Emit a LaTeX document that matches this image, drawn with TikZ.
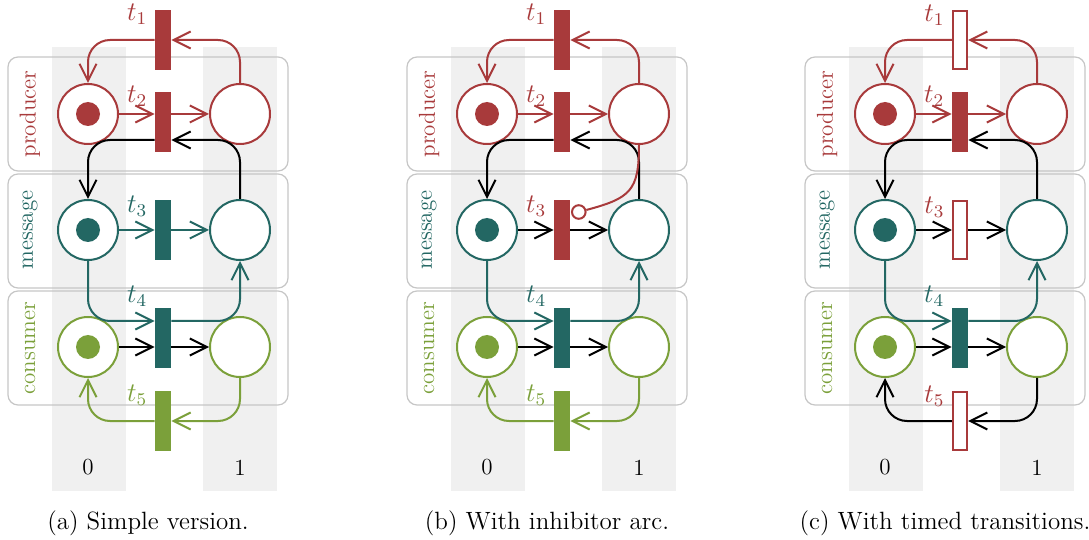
\documentclass[tikz,border=0pt]{standalone}
\usepackage{graphicx}
\usetikzlibrary{arrows.meta,calc}

\definecolor{pred}{HTML}{A83A3B}
\definecolor{pteal}{HTML}{236763}
\definecolor{pgreen}{HTML}{7BA03A}
\definecolor{colbg}{HTML}{F0F0F0}
\definecolor{boxline}{HTML}{C6C6C6}

\tikzset{
  place/.style={circle, draw, line width=1pt, minimum size=30pt, inner sep=0pt, fill=white},
  transbar/.style={rectangle, minimum width=8pt, minimum height=30pt, inner sep=0pt},
  tfull/.style={transbar, fill=#1},
  topen/.style={transbar, draw=#1, fill=white, line width=0.9pt, minimum width=7.2pt, minimum height=29.2pt},
  flow/.style={line width=1pt, rounded corners=11pt, -{Straight Barb[length=8.5pt,width=8.5pt]}},
  lanebox/.style={draw=boxline, line width=0.6pt, rounded corners=5pt},
  lanelabel/.style={rotate=90, inner sep=0pt},
  tlabel/.style={anchor=east, inner sep=0pt},
  caption/.style={font=\fontsize{12.5pt}{15pt}\selectfont},
  inhibit/.style={circle, draw=pred, line width=1pt, fill=white, minimum size=6.8pt, inner sep=0pt},
}
\newcommand\tname[1]{\scalebox{1.12}{$t_{#1}$}}

% common part of one panel: lanes, places, t2, t4 and their arcs
\newcommand\basepanel[2]{%
  \fill[colbg] (52,47) rectangle (126,491);
  \fill[colbg] (203,47) rectangle (277,491);
  \draw[lanebox] (8,57) rectangle (288,171);
  \draw[lanebox] (8,174) rectangle (288,288);
  \draw[lanebox] (8,291) rectangle (288,405);
  \node[lanelabel, text=pred] (#1-lp) at (30,114) {producer};
  \node[lanelabel, text=pteal] (#1-lm) at (30,230) {message};
  \node[lanelabel, text=pgreen] (#1-lc) at (30,348) {consumer};
  % places
  \node[place, draw=pred] (#1-p0) at (88,114) {};
  \node[place, draw=pred] (#1-p1) at (240,114) {};
  \node[place, draw=pteal] (#1-m0) at (88,230) {};
  \node[place, draw=pteal] (#1-m1) at (240,230) {};
  \node[place, draw=pgreen] (#1-c0) at (88,347) {};
  \node[place, draw=pgreen] (#1-c1) at (240,347) {};
  \fill[pred] (#1-p0) circle (6pt);
  \fill[pteal] (#1-m0) circle (6pt);
  \fill[pgreen] (#1-c0) circle (6pt);
  % t2
  \node[tfull=pred] (#1-t2) at (163,122) {};
  \node[tlabel, text=pred] (#1-l2) at ([xshift=-3.5pt,yshift=-2.5pt]#1-t2.north west) {\tname{2}};
  \draw[flow, pred] (#1-p0.east) -- (#1-p0.east -| #1-t2.west);
  \draw[flow, pred] (#1-p0.east -| #1-t2.east) -- (#1-p1.west);
  \draw[flow] (#1-m1.north) |- ([yshift=-9pt]#1-t2.east);
  \draw[flow] ([yshift=-9pt]#1-t2.west) -| (#1-m0.north);
  % t4
  \node[tfull=pteal] (#1-t4) at (163,338.5) {};
  \node[tlabel, text=pteal] (#1-l4) at ([xshift=-3.5pt,yshift=6pt]#1-t4.north west) {\tname{4}};
  \draw[flow, pteal] (#1-m0.south) |- ([yshift=8.75pt]#1-t4.west);
  \draw[flow, pteal] ([yshift=8.75pt]#1-t4.east) -| (#1-m1.south);
  \draw[flow] (#1-c0.east) -- (#1-c0.east -| #1-t4.west);
  \draw[flow] (#1-c0.east -| #1-t4.east) -- (#1-c1.west);
  % column indices and caption
  \node (#1-n0) at (88,467) {0};
  \node (#1-n1) at (240,468) {1};
  \node[caption] (#1-cap) at (148,523) {#2};
}

% t1: prefix, transition style, label colour, arc colour
\newcommand\tone[4]{%
  \node[#2] (#1-t1) at (163,40) {};
  \node[tlabel, text=#3] (#1-l1) at ([xshift=-3.5pt,yshift=-2.5pt]#1-t1.north west) {\tname{1}};
  \draw[flow, #4] (#1-p1.north) |- (#1-t1.east);
  \draw[flow, #4] (#1-t1.west) -| (#1-p0.north);
}
% t3
\newcommand\tthree[4]{%
  \node[#2] (#1-t3) at (163,230) {};
  \node[tlabel, text=#3] (#1-l3) at ([xshift=-3.5pt,yshift=-3.5pt]#1-t3.north west) {\tname{3}};
  \draw[flow, #4] (#1-m0.east) -- (#1-t3.west);
  \draw[flow, #4] (#1-t3.east) -- (#1-m1.west);
}
% t5
\newcommand\tfive[4]{%
  \node[#2] (#1-t5) at (163,421) {};
  \node[tlabel, text=#3] (#1-l5) at ([xshift=-3.5pt,yshift=-2.5pt]#1-t5.north west) {\tname{5}};
  \draw[flow, #4] (#1-c1.south) |- (#1-t5.east);
  \draw[flow, #4] (#1-t5.west) -| (#1-c0.south);
}

\begin{document}
\begin{tikzpicture}[x=0.5pt, y=-0.5pt, font=\fontsize{11.5pt}{14pt}\selectfont]
\useasboundingbox (0,0) rectangle (1089,540);

% (a) simple version
\begin{scope}
  \basepanel{a}{(a) Simple version.}
  \tone{a}{tfull=pred}{pred}{pred}
  \tthree{a}{tfull=pteal}{pteal}{pteal}
  \tfive{a}{tfull=pgreen}{pgreen}{pgreen}
\end{scope}

% (b) inhibitor arc
\begin{scope}[xshift=199.5pt]
  \basepanel{b}{(b) With inhibitor arc.}
  \tone{b}{tfull=pred}{pred}{pred}
  \tthree{b}{tfull=pred}{pred}{black}
  \tfive{b}{tfull=pgreen}{pgreen}{pgreen}
  \node[inhibit, anchor=west] (b-inh) at ([yshift=9pt,xshift=0.3pt]b-t3.east) {};
  \draw[pred, line width=1pt]
    (b-p1.south) to[out=-90, in=15, looseness=1.4] (b-inh);
\end{scope}

% (c) timed transitions
\begin{scope}[xshift=398.5pt]
  \basepanel{c}{(c) With timed transitions.}
  \tone{c}{topen=pred}{pred}{pred}
  \tthree{c}{topen=pred}{pred}{black}
  \tfive{c}{topen=pred}{pred}{black}
\end{scope}
\end{tikzpicture}
\end{document}
